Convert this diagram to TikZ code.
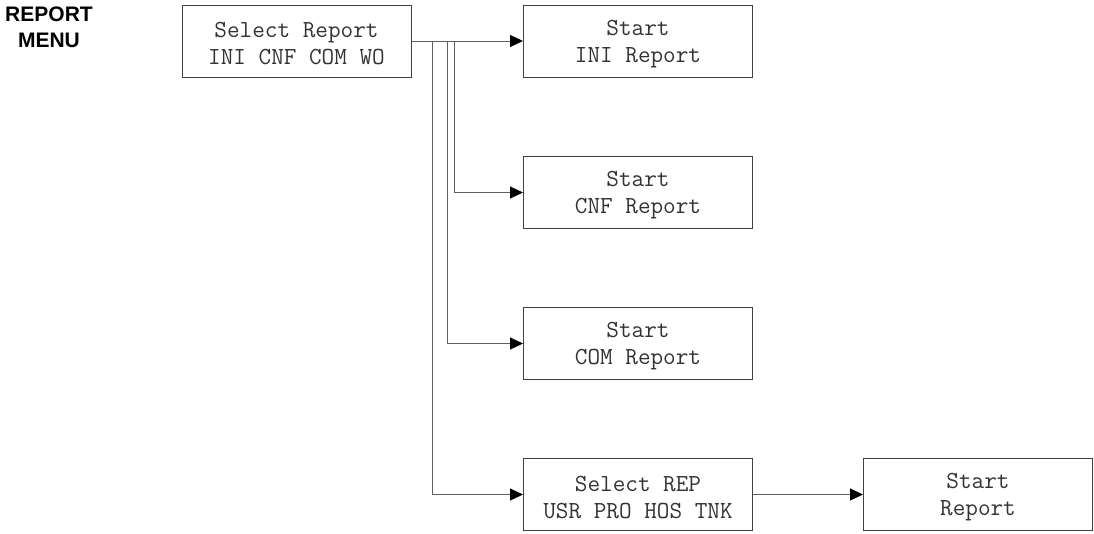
\documentclass[tikz,border=0pt]{standalone}
\usepackage{fontspec}
\setmainfont{Liberation Sans}
\usetikzlibrary{arrows.meta}
\definecolor{boxline}{HTML}{404040}
\definecolor{conline}{HTML}{606060}
\tikzset{
  box/.style={draw=boxline, line width=1pt, minimum width=229pt, minimum height=72pt,
    inner sep=0pt},
  boxtext/.style={inner sep=0pt, align=center,
    font=\ttfamily\fontsize{24.5}{27}\selectfont, text=black!80},
  conn/.style={draw=conline, line width=1pt},
  arr/.style={conn, -{Triangle[length=13pt,width=12pt,fill=black,color=black]}},
  title/.style={align=center, font=\bfseries\fontsize{21}{26}\selectfont, inner sep=0pt}
}
\begin{document}
\begin{tikzpicture}[x=1pt,y=-1pt]
\useasboundingbox (0,0) rectangle (1094,533);
\node[title] (menu) at (49,27) {REPORT\\MENU};
\node[box] (sel) at (296.5,41) {};
\node[box] (ini) at (638,41) {};
\node[box] (cnf) at (638,192.5) {};
\node[box] (com) at (638,343.5) {};
\node[box] (rep) at (638,494.5) {};
\node[box] (start) at (978,494.5) {};
\node[boxtext] (selt) at ([yshift=-3pt]sel.center) {Select Report\\INI CNF COM WO};
\node[boxtext] (init) at ([yshift=-3pt]ini.center) {Start\\INI Report};
\node[boxtext] (cnft) at ([yshift=-3pt]cnf.center) {Start\\CNF Report};
\node[boxtext] (comt) at ([yshift=-3pt]com.center) {Start\\COM Report};
\node[boxtext] (rept) at ([yshift=-3pt]rep.center) {Select REP\\USR PRO HOS TNK};
\node[boxtext] (startt) at ([yshift=-3pt]start.center) {Start\\Report};
\draw[arr] (sel.east) -- (ini.west);
\draw[arr] (sel.east) -- ++(43,0) |- (cnf.west);
\draw[arr] (sel.east) -- ++(36,0) |- (com.west);
\draw[arr] (sel.east) -- ++(21,0) |- (rep.west);
\draw[arr] (rep.east) -- (start.west);
\end{tikzpicture}
\end{document}
